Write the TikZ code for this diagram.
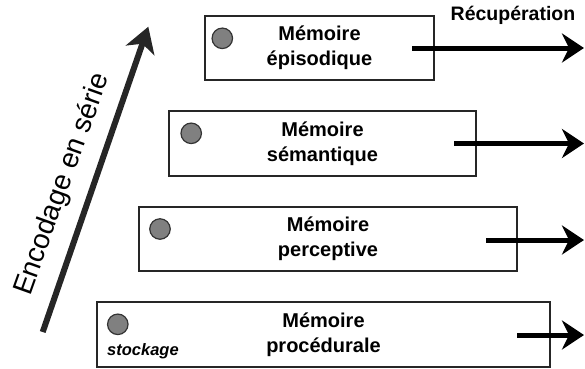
\documentclass[tikz,border=0pt]{standalone}
\usepackage{fontspec}
\setmainfont{Liberation Sans}
\usetikzlibrary{arrows.meta}
\begin{document}
\begin{tikzpicture}[x=1pt,y=-1pt,
  membox/.style={draw=black!85, line width=1.2pt, inner sep=0pt, align=center,
    font=\fontsize{20}{25}\selectfont\bfseries},
  dot/.style={circle, draw=black!80, fill=black!50, line width=1.2pt, minimum size=20.5pt, inner sep=0pt},
  retrieve/.style={line width=5pt, -{Stealth[length=22pt,width=29pt,inset=7pt]}},
  encode/.style={line width=6pt, draw=black!85, -{Stealth[length=25pt,width=30pt,inset=7pt]}}
]
\useasboundingbox (0,0) rectangle (585,368);
% boxes
\node[membox, minimum width=229pt, minimum height=64pt] (b1) at (319.5,48) {Mémoire\\épisodique};
\node[membox, minimum width=307pt, minimum height=65pt] (b2) at (322.5,143.5) {Mémoire\\sémantique};
\node[membox, minimum width=378pt, minimum height=64pt] (b3) at (328,239) {Mémoire\\perceptive};
\node[membox, minimum width=453pt, minimum height=65pt] (b4) at (323.5,334.5) {Mémoire\\procédurale};
% dots
\node[dot] (c1) at (222.3,38.3) {};
\node[dot] (c2) at (191.2,133.3) {};
\node[dot] (c3) at (160,229) {};
\node[dot] (c4) at (117.8,324.3) {};
% retrieval arrows
\coordinate (s1) at (412,48);   \coordinate (e1) at (584,48);
\coordinate (s2) at (454,143.5); \coordinate (e2) at (584,143.5);
\coordinate (s3) at (486,240);  \coordinate (e3) at (584,240);
\coordinate (s4) at (517,335);  \coordinate (e4) at (584,335);
\draw[retrieve] (s1) -- (e1);
\draw[retrieve] (s2) -- (e2);
\draw[retrieve] (s3) -- (e3);
\draw[retrieve] (s4) -- (e4);
\node[anchor=base, font=\fontsize{19.5}{22}\selectfont\bfseries] (rec) at (513,20.7) {Récupération};
\node[anchor=base west, inner sep=0pt, font=\fontsize{16.5}{19}\selectfont\bfseries\itshape] (stk) at (107,355.7) {stockage};
% encoding arrow
\coordinate (ea) at (42.7,332);
\coordinate (eb) at (148.3,26.7);
\draw[encode] (ea) -- (eb);
\node[anchor=base, rotate=70.3, inner sep=0pt, font=\fontsize{28}{30}\selectfont] (enc) at (69.5,187) {Encodage en série};
\end{tikzpicture}
\end{document}
